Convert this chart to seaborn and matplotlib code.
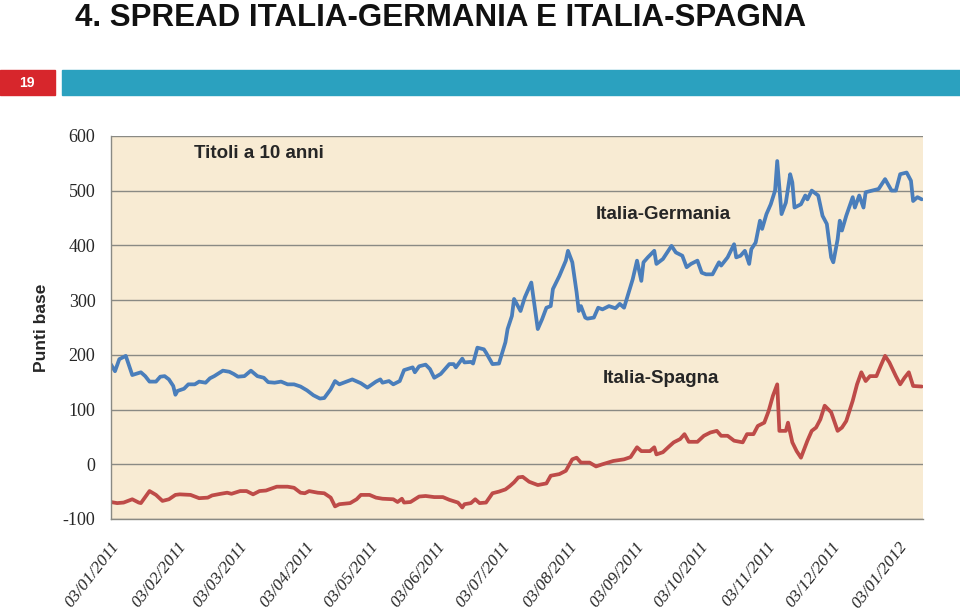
import pandas as pd
import seaborn as sns
import matplotlib.pyplot as plt
import matplotlib.dates as mdates

# giorni dal 03/01/2011 e spread (punti base)
ger_day = [0, 2, 4, 7, 10, 14, 16, 18, 21, 23, 25, 27, 29, 30, 31, 34, 36, 39, 41, 44,
           46, 48, 52, 55, 57, 59, 62, 65, 68, 71, 73, 76, 79, 82, 85, 88, 91, 94, 97, 99,
           102, 104, 106, 108, 112, 116, 119, 123, 125, 126, 129, 131, 134, 136, 140, 141,
           143, 146, 148, 150, 153, 157, 159, 160, 163, 164, 167, 168, 170, 173, 174, 177,
           180, 183, 184, 186, 187, 190, 192, 195, 198, 200, 202, 204, 205, 208, 211, 212,
           214, 216, 217, 218, 220, 221, 224, 226, 228, 231, 234, 236, 238, 239, 242, 244,
           246, 247, 249, 252, 253, 256, 260, 262, 265, 267, 269, 272, 274, 276, 279, 282,
           283, 286, 289, 290, 292, 294, 296, 297, 299, 301, 302, 304, 306, 308, 309, 311,
           313, 315, 316, 317, 320, 322, 323, 325, 328, 330, 332, 334, 335, 337, 338, 339,
           341, 344, 345, 347, 349, 350, 353, 356, 359, 362, 364, 366, 369, 371, 372, 374, 376]
ger_val = [183, 170, 192, 198, 163, 168, 161, 151, 151, 160, 161, 155, 143, 127, 134, 138, 146, 146, 151, 149,
           157, 161, 171, 169, 165, 160, 161, 171, 161, 158, 150, 149, 151, 146, 146, 142, 135, 126, 120, 121,
           137, 152, 146, 149, 155, 148, 140, 151, 155, 149, 152, 146, 152, 172, 177, 168,
           179, 182, 174, 158, 165, 183, 183, 177, 193, 186, 187, 184, 213, 210, 204, 183,
           184, 223, 247, 271, 302, 280, 305, 332, 247, 265, 286, 289, 320, 344, 372, 390,
           369, 314, 280, 289, 268, 266, 268, 286, 283, 289, 285, 293, 286, 299, 338, 372,
           335, 369, 378, 390, 366, 375, 399, 387, 381, 360, 366, 372, 350, 347, 347, 369,
           363, 378, 402, 378, 381, 390, 366, 393, 405, 445, 430, 457, 475, 500, 554, 457,
           478, 530, 515, 469, 475, 491, 484, 500, 491, 454, 439, 378, 369, 411, 445, 427,
           454, 488, 469, 491, 469, 497, 500, 503, 521, 500, 500, 530, 533, 518, 481, 488, 484]

spa_day = [0, 3, 6, 10, 13, 14, 18, 21, 24, 27, 30, 32, 37, 41, 45, 47, 51, 54, 56, 60,
           63, 66, 69, 72, 77, 82, 85, 88, 90, 92, 96, 99, 102, 104, 106, 111, 114, 116, 120, 123,
           126, 131, 133, 135, 136, 139, 143, 146, 150, 154, 157, 161, 163, 164, 167, 169, 171, 174,
           177, 180, 183, 185, 187, 189, 191, 194, 198, 202, 204, 208, 211, 214, 216, 218, 222, 225,
           228, 233, 238, 241, 244, 246, 250, 252, 253, 256, 259, 261, 264, 266, 268, 272, 275, 278,
           281, 283, 286, 289, 293, 295, 298, 300, 303, 305, 307, 309, 310, 313, 314, 316, 318, 320,
           323, 325, 327, 329, 331, 334, 337, 339, 341, 344, 346, 348, 350, 352, 355, 357, 359, 361,
           364, 366, 368, 370, 372, 376]
spa_val = [-69, -71, -70, -64, -70, -71, -49, -56, -67, -64, -56, -55, -56, -62, -61, -57, -54, -52, -54, -49,
           -49, -55, -49, -48, -41, -41, -43, -52, -53, -49, -52, -53, -61, -77, -73, -71, -64, -56, -56, -61,
           -63, -64, -69, -63, -70, -69, -59, -58, -60, -60, -65, -70, -79, -73, -71, -64, -71, -70,
           -53, -50, -46, -40, -33, -24, -23, -32, -38, -35, -21, -18, -12, 9, 12, 3, 3, -4,
           0, 6, 9, 13, 31, 24, 24, 31, 18, 22, 33, 40, 46, 55, 41, 41, 52, 58,
           61, 52, 52, 43, 40, 55, 55, 70, 76, 97, 125, 146, 61, 61, 76, 40, 24, 12,
           43, 61, 67, 82, 107, 95, 61, 67, 79, 116, 146, 168, 152, 161, 161, 180, 198, 186,
           161, 146, 158, 168, 143, 142]

start = pd.Timestamp("2011-01-03")
tick_dates = pd.date_range("2011-01-01", periods=13, freq="MS") + pd.Timedelta(days=2)
y_ticks = [-100, 0, 100, 200, 300, 400, 500, 600]

ger = pd.DataFrame({"data": start + pd.to_timedelta(ger_day, unit="D"), "spread": ger_val,
                    "serie": "Italia-Germania"})
spa = pd.DataFrame({"data": start + pd.to_timedelta(spa_day, unit="D"), "spread": spa_val,
                    "serie": "Italia-Spagna"})
df = pd.concat([ger, spa], ignore_index=True)

sns.set_style("white")
plt.rcParams['font.family'] = ['Liberation Sans', 'DejaVu Sans']

fig = plt.figure(figsize=(9.6, 6.12), dpi=100)
fig.patch.set_facecolor("white")

# intestazione della slide
fig.text(0.078, 0.958, "4. SPREAD ITALIA-GERMANIA E ITALIA-SPAGNA", fontsize=22.5, fontweight="bold",
         va="baseline", ha="left", color="#111111")
fig.patches.append(plt.Rectangle((0, 0.845), 0.057, 0.041, transform=fig.transFigure,
                                 color="#d7262c", zorder=1))
fig.patches.append(plt.Rectangle((0.065, 0.845), 0.935, 0.041, transform=fig.transFigure,
                                 color="#2ba1bf", zorder=1))
fig.text(0.0285, 0.865, "19", color="white", fontsize=10, fontweight="bold", ha="center", va="center")

ax = fig.add_axes([0.1153, 0.152, 0.8462, 0.626])
ax.set_facecolor("#f8ebd3")
sns.lineplot(data=df, x="data", y="spread", hue="serie", palette=["#4a7ebb", "#be4b48"],
             linewidth=2.7, legend=False, ax=ax)

ax.set_xlim(start, start + pd.Timedelta(days=376.6))
ax.set_ylim(-100, 600)
ax.set_yticks(y_ticks)
ax.set_yticklabels([str(v) for v in y_ticks], family=['Liberation Serif'], fontsize=13)
ax.set_xticks(tick_dates)
ax.xaxis.set_major_formatter(mdates.DateFormatter("%d/%m/%Y"))
for lab in ax.get_xticklabels():
    lab.set_family(['Liberation Serif'])
    lab.set_style("italic")
    lab.set_fontsize(12.5)
    lab.set_rotation(52)
    lab.set_ha("right")
    lab.set_rotation_mode("anchor")
ax.tick_params(axis="y", length=0, pad=11)
ax.tick_params(axis="x", length=0, pad=14)
ax.grid(axis="y", color="#8a8a84", linewidth=1)
ax.set_axisbelow(True)
for s in ["top", "right"]:
    ax.spines[s].set_visible(False)
for s in ["left", "bottom"]:
    ax.spines[s].set_color("#8a8a84")
    ax.spines[s].set_linewidth(1)

ax.set_xlabel("")
ax.set_ylabel("Punti base", fontsize=12.5, fontweight="bold", labelpad=10)

ax.text(0.183, 0.953, "Titoli a 10 anni", transform=ax.transAxes, fontsize=13.5, fontweight="bold",
        ha="center", va="center")
ax.text(0.680, 0.794, "Italia-Germania", transform=ax.transAxes, fontsize=13.5, fontweight="bold",
        ha="center", va="center")
ax.text(0.677, 0.366, "Italia-Spagna", transform=ax.transAxes, fontsize=13.5, fontweight="bold",
        ha="center", va="center")

plt.savefig("out.png", dpi=100)
